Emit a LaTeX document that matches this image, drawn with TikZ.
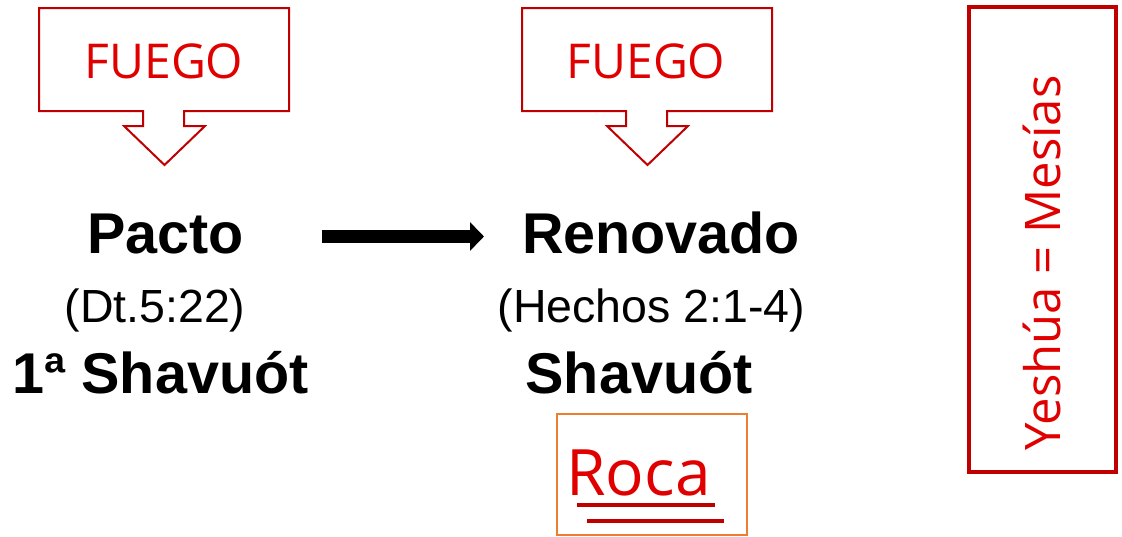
\documentclass[tikz,border=0pt]{standalone}
\usepackage{fontspec}
\setmainfont{Liberation Sans}
\newfontfamily\hand{Open Sans}
\usetikzlibrary{arrows.meta}
\definecolor{frame}{HTML}{C00000}
\definecolor{hred}{HTML}{E00000}
\definecolor{orng}{HTML}{ED7D31}
\tikzset{
  calloutline/.style={draw=frame, line width=2pt, fill=white, line join=miter},
  big/.style={font=\bfseries\fontsize{57.5}{60}\selectfont, inner sep=0pt, anchor=base},
  ref/.style={font=\fontsize{46.5}{50}\selectfont, inner sep=0pt, anchor=base},
  handtxt/.style={font=\hand\fontsize{48}{50}\selectfont, text=hred, inner sep=0pt},
  bigarrow/.style={line width=13pt, line cap=butt, -{Triangle[length=14pt,width=28pt]}},
  pics/fuegobox/.style={code={
    \draw[calloutline] (0,0) -- (250,0) -- (250,103) -- (145,103) -- (145,118)
      -- (166,118) -- (125.5,157) -- (85,118) -- (104,118) -- (104,103)
      -- (0,103) -- cycle;
  }}
}
\begin{document}
\begin{tikzpicture}[x=1pt,y=-1pt]
\useasboundingbox (0,0) rectangle (1122,536);
% callouts
\pic at (39,8) {fuegobox};
\node[handtxt] (fuego1) at (164,61) {FUEGO};
\pic at (522,8) {fuegobox};
\node[handtxt] (fuego2) at (646,61) {FUEGO};
% left column
\node[big] (pacto) at (165.5,253) {Pacto};
\node[ref] (dt) at (155,322) {(Dt.5:22)};
\node[big] (shav1) at (160.5,393) {1ª Shavuót};
% right column
\node[big] (renov) at (661,253) {Renovado};
\node[ref] (hechos) at (651.5,322) {(Hechos 2:1-4)};
\node[big] (shav2) at (639,393) {Shavuót};
% arrow
\coordinate (a1) at (322,236.5);
\coordinate (a2) at (484,236.5);
\draw[bigarrow] (a1) -- (a2);
% Roca box
\node[draw=orng, line width=2pt, minimum width=190pt, minimum height=121pt, inner sep=0pt] (rocabox) at (651.5,474) {};
\node[handtxt, font=\hand\fontsize{64}{66}\selectfont, anchor=base] (roca) at (638.5,495) {Roca};
\coordinate (u1a) at (577,505);
\coordinate (u1b) at (715,505);
\coordinate (u2a) at (587,521);
\coordinate (u2b) at (724,521);
\draw[frame, line width=4pt] (u1a) -- (u1b);
\draw[frame, line width=4pt] (u2a) -- (u2b);
% Yeshua box
\node[draw=frame, line width=3.5pt, minimum width=147pt, minimum height=465pt, inner sep=0pt] (mesbox) at (1042.5,239.5) {};
\node[handtxt, font=\hand\fontsize{49}{52}\selectfont, rotate=90] (mesias) at (1042,263) {Yeshúa = Mesías};
\end{tikzpicture}
\end{document}
